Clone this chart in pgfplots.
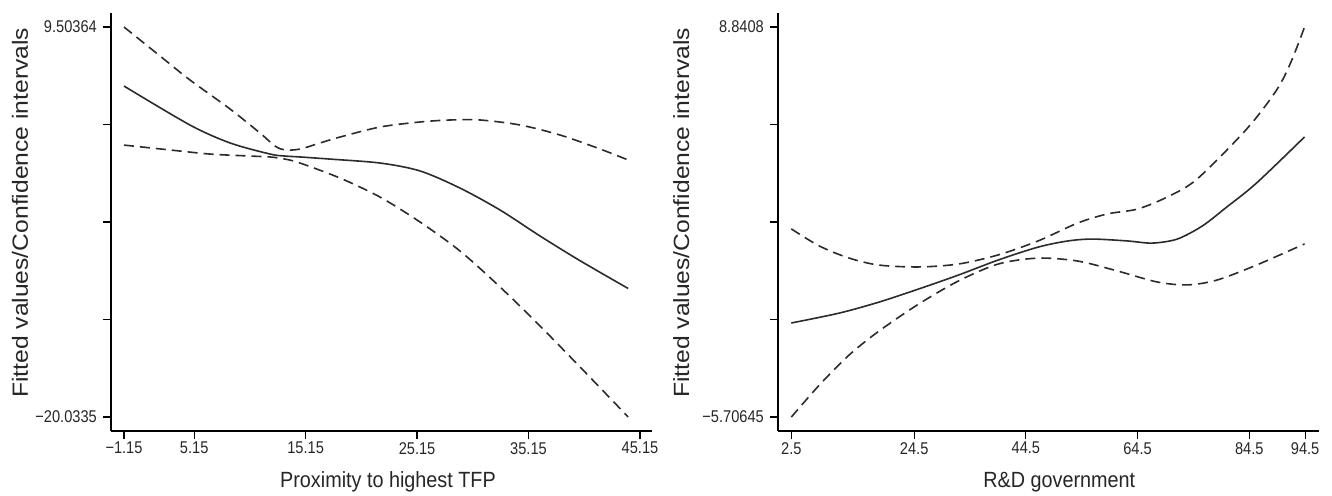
\documentclass[border=0pt]{standalone}
\usepackage{pgfplots}
\pgfplotsset{compat=1.18}
\usepackage{fontspec}
\setmainfont{Liberation Sans}[FakeStretch=0.9]
\newfontfamily\ylabfont{Liberation Sans}[FakeStretch=1.12]
\newfontfamily\tickfont{Liberation Sans}[FakeStretch=0.86]
\definecolor{curve}{HTML}{2B2B2B}
\pgfplotsset{
  stata/.style={
    scale only axis, width=541pt, height=418pt,
    axis x line*=bottom, axis y line*=left,
    axis line style={line width=1.4pt, black, -},
    tick align=outside, major tick length=8pt,
    tick style={line width=1.2pt, black},
    ticklabel style={font=\tickfont\fontsize{17}{20}\selectfont, text=black!85},
    xticklabel style={inner sep=1pt, yshift=-2pt},
    yticklabel style={inner sep=2pt, xshift=-4pt},
    xlabel style={font=\fontsize{22}{26}\selectfont, text=black!85, anchor=base},
    ylabel style={font=\ylabfont\fontsize{22}{26}\selectfont, text=black!85, anchor=center},
    clip=false,
  },
  solidc/.style={curve, line width=1.6pt, smooth},
  dashc/.style={curve, line width=1.6pt, smooth, dash pattern=on 10pt off 6pt},
}
\begin{document}
\begin{tikzpicture}
\useasboundingbox (0,0) rectangle (1332pt,495pt);
% Left panel
\begin{axis}[stata, at={(111pt,64pt)}, anchor=south west,
  xmin=-2.317, xmax=46.23, ymin=-21.094, ymax=10.564,
  xtick={-1.15,5.15,15.15,25.15,35.15,45.15},
  xticklabels={−1.15,5.15,15.15,25.15,35.15,45.15},
  ytick={-20.0335,-12.649215,-5.26493,2.119355,9.50364},
  yticklabels={−20.0335,,,,9.50364},
  xlabel={Proximity to highest TFP},
  ylabel={Fitted values/Confidence intervals},
  xlabel style={at={(axis description cs:0.512,-0.136)}},
  ylabel style={at={(axis description cs:-0.168,0.522)}},
]
\addplot[solidc] coordinates {(-1.15,5.03)(4.77,2.08)(8.37,0.72)(11.96,-0.12)(13.30,-0.27)(14.65,-0.34)(17.34,-0.50)(21.83,-0.80)(25.42,-1.40)(29.01,-2.70)(32.60,-4.36)(36.19,-6.33)(39.78,-8.20)(44.09,-10.30)};
\addplot[dashc] coordinates {(-1.15,9.50)(2.08,7.31)(4.77,5.49)(8.37,3.29)(11.06,1.47)(12.40,0.49)(13.30,0.19)(14.65,0.26)(16.44,0.72)(18.24,1.17)(21.83,1.93)(25.42,2.31)(28.11,2.46)(30.81,2.46)(34.40,2.08)(37.99,1.32)(41.58,0.26)(44.09,-0.57)};
\addplot[dashc] coordinates {(-1.15,0.56)(2.98,0.19)(6.57,-0.12)(10.16,-0.27)(11.96,-0.34)(13.30,-0.50)(14.65,-0.80)(18.24,-1.94)(21.83,-3.38)(25.42,-5.27)(29.01,-7.47)(32.60,-10.19)(36.19,-13.15)(39.78,-16.25)(44.09,-20.03)};
\end{axis}
% Right panel
\begin{axis}[stata, at={(778pt,64pt)}, anchor=south west,
  xmin=0.116, xmax=96.99, ymin=-6.229, ymax=9.363,
  xtick={2.5,24.5,44.5,64.5,84.5,94.5},
  xticklabels={2.5,24.5,44.5,64.5,84.5,94.5},
  ytick={-5.70645,-2.0696375,1.567175,5.2039875,8.8408},
  yticklabels={−5.70645,,,,8.8408},
  xlabel={R\&D government},
  ylabel={Fitted values/Confidence intervals},
  xlabel style={at={(axis description cs:0.52,-0.136)}},
  ylabel style={at={(axis description cs:-0.179,0.522)}},
]
\addplot[solidc] coordinates {(2.5,-2.20)(11.1,-1.83)(18.21,-1.42)(25.33,-0.93)(32.45,-0.41)(39.56,0.15)(46.68,0.63)(52.03,0.86)(56.47,0.93)(62.7,0.86)(67.1,0.78)(71.6,0.93)(76.1,1.42)(80.5,2.13)(85.8,3.02)(94.4,4.74)};
\addplot[dashc] coordinates {(2.5,1.31)(7.54,0.67)(12.87,0.22)(18.21,-0.04)(25.33,-0.11)(32.45,0.00)(39.56,0.34)(46.68,0.86)(53.80,1.53)(59.14,1.87)(64.48,2.05)(69.82,2.50)(75.16,3.17)(84.1,5.05)(89.4,6.49)(92.0,7.55)(94.4,8.84)};
\addplot[dashc] coordinates {(2.5,-5.71)(7.54,-4.51)(12.87,-3.39)(18.21,-2.50)(25.33,-1.49)(32.45,-0.63)(39.56,0.00)(46.68,0.22)(53.80,0.11)(60.9,-0.26)(68.0,-0.67)(73.4,-0.78)(78.7,-0.60)(85.8,-0.04)(94.4,0.75)};
\end{axis}
\end{tikzpicture}
\end{document}
